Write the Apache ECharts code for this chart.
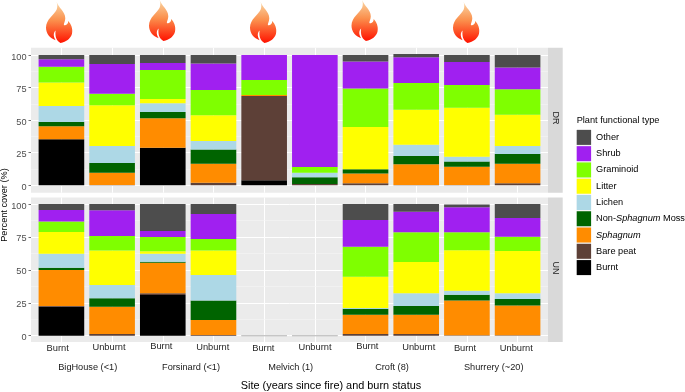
<!DOCTYPE html>
<html>
<head>
<meta charset="utf-8">
<style>html,body{margin:0;padding:0;background:#fff}#c{width:685px;height:392px}</style>
<script src="https://cdn.jsdelivr.net/npm/echarts@6/dist/echarts.min.js"></script>
</head>
<body>
<div id="c"></div>
<script>
// ---- data ----
const barLabels = ['Burnt','Unburnt','Burnt','Unburnt','Burnt','Unburnt','Burnt','Unburnt','Burnt','Unburnt'];
const sites = ['BigHouse (<1)','Forsinard (<1)','Melvich (1)','Croft (8)','Shurrery (~20)'];
const categories = ['BH B','BH U','FO B','FO U','ME B','ME U','CR B','CR U','SH B','SH U'];
const yTicks = [0,25,50,75,100];
const typeNames = ['Burnt','Bare peat','Sphagnum','Non-Sphagnum Moss','Lichen','Litter','Graminoid','Shrub','Other'];

const burntDR     = [35.3, 0,   28.9, 0,   3.8,  0,    0,   0,   0,   0];
const peatDR      = [0,    0.3, 0,    2,   64.7, 1,    1.5, 0.3, 0.3, 1.5];
const sphagnumDR  = [10,   9.4, 22.5, 14.6,0.8,  0,    7.5, 15.8,14,  15.1];
const mossDR      = [3.3,  7.4, 4.9,  10.8,0,    5.1,  3.3, 6.4, 3.9, 7.4];
const lichenDR    = [12.3, 13.1,6.6,  6.6, 0,    3.6,  0,   8.7, 3.8, 6.2];
const litterDR    = [17.9, 31.2,3.3,  19.7,0,    0,    32.5,26.8,37.6,24];
const graminoidDR = [12.2, 8.9, 22.3, 19.4,11.5, 4.4,  29.4,20.5,17.4,19.5];
const shrubDR     = [5.7,  22.8,5.4,  20.3,19.2, 85.9, 20.9,19.7,17.6,16.8];
const otherDR     = [3.3,  6.9, 6.1,  6.6, 0,    0,    4.9, 2.6, 5.4, 9.5];

const burntUN     = [22,   0,   30.9, 0,   0, 0, 0,   0,   0,   0];
const peatUN      = [0.5,  1.3, 1.3,  0.5, 0, 0, 1.3, 1.3, 0.3, 0.3];
const sphagnumUN  = [27.4, 20.7,23.2, 11.4,0, 0, 14.7,14.7,26.5,22.7];
const mossUN      = [1.7,  6.4, 0.8,  14.9,0, 0, 4.5, 6.5, 4.3, 4.8];
const lichenUN    = [10.7, 10.1,6.1,  19.3,0, 0, 0.5, 9.7, 3.1, 4.4];
const litterUN    = [16.4, 26.1,1.8,  18.5,0, 0, 23.8,23.8,30.6,32.1];
const graminoidUN = [8.1,  11.1,10.8, 8.8, 0, 0, 22.8,22.5,13.7,10.9];
const shrubUN     = [8.6,  19.5,4.6,  19,  0, 0, 20.2,15.7,19,  14.2];
const otherUN     = [4.6,  4.8, 20.5, 7.6, 0, 0, 12.2,5.8, 2.2, 10.6];

const seriesDR = [burntDR,peatDR,sphagnumDR,mossDR,lichenDR,litterDR,graminoidDR,shrubDR,otherDR];
const seriesUN = [burntUN,peatUN,sphagnumUN,mossUN,lichenUN,litterUN,graminoidUN,shrubUN,otherUN];
const typeColors = ['#000000','#5d4037','#ff8c00','#006400','#add8e6','#ffff00','#7fff00','#a020f0','#4d4d4d'];
const legendOrder = ['Other','Shrub','Graminoid','Litter','Lichen','Non-Sphagnum Moss','Sphagnum','Bare peat','Burnt'];

// ---- layout ----
const FONT = '"Liberation Sans", Arial, sans-serif';
const panels = [
  {top:47.7, bottom:192.7, y100:55,    y0:185.3, strip:'DR', stripY:118},
  {top:197.5,bottom:342,   y100:204,   y0:335.7, strip:'UN', stripY:268}
];
const panelL = 31, panelR = 548, stripR = 562.7;
const unit = (panelR-panelL)/10.2;
const barsL = panelL+0.1*unit, barsR = panelR-0.1*unit;
const tickX = [57.7,109,161.3,212.7,263.3,315,367.3,418.7,465,516.3];
const tickY = [348,347.3,346.7,347.3,348.3,347.3,346.7,347.3,348,348.3];
const siteX = [87.7,191,290.7,392,493.7];
const flames = [[46,2],[149,0],[250,2],[351.5,0],[453,2]];
const flamePath = 'M11 0 C13 6 20 10 20 17 C20 20 18.5 22 18.5 24 C21 25 23 23 23 20 C26 23 28 28 27 33 C26 38 21 42 15 43 C11 41 9 36 10 30 C7 33 8 37 10 40 C4 38 0 33 0 27 C0 18 8 14 11 8 C12 5 12 3 11 0 Z';
echarts.graphic.registerShape('flame', echarts.graphic.extendPath(flamePath, {}));

const grid=[], xAxis=[], yAxis=[], series=[], graphic=[];
panels.forEach((p,i)=>{
  graphic.push({type:'rect',z:-10,silent:true,shape:{x:panelL,y:p.top,width:panelR-panelL,height:p.bottom-p.top},style:{fill:'#ebebeb'}});
  graphic.push({type:'rect',z:-10,silent:true,shape:{x:panelR,y:p.top,width:stripR-panelR,height:p.bottom-p.top},style:{fill:'#d9d9d9'}});
  graphic.push({type:'text',z:5,silent:true,x:555.5,y:p.stripY,rotation:-Math.PI/2,style:{text:p.strip,font:'9px '+FONT,fill:'#1a1a1a',align:'center',verticalAlign:'middle'}});

  // horizontal gridlines and y ticks
  const gH = grid.length;
  grid.push({left:panelL,width:panelR-panelL,top:p.y100,height:p.y0-p.y100});
  xAxis.push({gridIndex:gH,type:'category',data:categories,show:false});
  yAxis.push({gridIndex:gH,type:'value',min:0,max:100,interval:25,z:1,
    axisLine:{show:false},
    axisTick:{show:true,length:2.5,lineStyle:{color:'#4d4d4d',width:0.8}},
    axisLabel:{show:false},
    splitLine:{show:true,lineStyle:{color:'#ffffff',width:1}},
    minorTick:{show:false,splitNumber:2},
    minorSplitLine:{show:true,lineStyle:{color:'#f5f5f5',width:0.6}}
  });
  series.push({type:'bar',xAxisIndex:gH,yAxisIndex:gH,data:[],silent:true,legendHoverLink:false});

  // y tick labels, sitting 2px under their ticks as in the reference
  const gL = grid.length;
  grid.push({left:panelL,width:panelR-panelL,top:p.y100+2,height:p.y0-p.y100});
  xAxis.push({gridIndex:gL,type:'category',data:categories,show:false});
  yAxis.push({gridIndex:gL,type:'value',min:0,max:100,interval:25,
    axisLine:{show:false},axisTick:{show:false},splitLine:{show:false},
    axisLabel:{color:'#4d4d4d',fontSize:9.2,fontFamily:FONT,margin:4.5,customValues:yTicks}
  });
  series.push({type:'bar',xAxisIndex:gL,yAxisIndex:gL,data:[],silent:true});

  // vertical gridlines through the bar centres
  const gV = grid.length;
  grid.push({left:barsL+unit/2,width:barsR-barsL-unit,top:p.top,height:p.bottom-p.top});
  xAxis.push({gridIndex:gV,type:'category',boundaryGap:false,data:categories,
    axisLine:{show:false},axisTick:{show:false},axisLabel:{show:false},
    splitLine:{show:true,interval:0,lineStyle:{color:'#ffffff',width:1}}});
  yAxis.push({gridIndex:gV,type:'value',min:0,max:100,show:false,splitLine:{show:false}});
  series.push({type:'bar',xAxisIndex:gV,yAxisIndex:gV,data:[],silent:true});

  // stacked bars
  const gB = grid.length;
  grid.push({left:barsL,width:barsR-barsL,top:p.y100,height:p.y0-p.y100});
  xAxis.push({gridIndex:gB,type:'category',data:categories,show:false});
  yAxis.push({gridIndex:gB,type:'value',min:0,max:100,show:false,splitLine:{show:false}});
  const src = i===0?seriesDR:seriesUN;
  typeNames.forEach((name,k)=>{
    series.push({
      name,type:'bar',stack:'s'+i,xAxisIndex:gB,yAxisIndex:gB,barWidth:'90%',clip:false,z:3,
      data:src[k].map((v,ci)=>{
        if(i===1&&k===8&&(ci===4||ci===5)) return {value:v,itemStyle:{borderColor:'#c4c4c4',borderWidth:1}};
        return v;
      }),
      itemStyle:{color:typeColors[k]},
      emphasis:{disabled:true}
    });
  });
});

barLabels.forEach((t,i)=>graphic.push({type:'text',silent:true,x:tickX[i],y:tickY[i],style:{text:t,font:'9.3px '+FONT,fill:'#262626',align:'center',verticalAlign:'middle'}}));
sites.forEach((t,i)=>graphic.push({type:'text',silent:true,x:siteX[i],y:367.7,style:{text:t,font:'9.2px '+FONT,fill:'#1a1a1a',align:'center',verticalAlign:'middle'}}));
graphic.push({type:'text',silent:true,x:331,y:385.5,style:{text:'Site (years since fire) and burn status',font:'10.9px '+FONT,fill:'#000',align:'center',verticalAlign:'middle'}});
graphic.push({type:'text',silent:true,x:4.5,y:205,rotation:Math.PI/2,style:{text:'Percent cover (%)',font:'9.2px '+FONT,fill:'#000',align:'center',verticalAlign:'middle'}});
graphic.push({type:'text',silent:true,x:576.7,y:120,style:{text:'Plant functional type',font:'9.2px '+FONT,fill:'#000',align:'left',verticalAlign:'middle'}});
// legend key backgrounds
legendOrder.forEach((n,i)=>graphic.push({type:'rect',z:-5,silent:true,shape:{x:576.7,y:129.3+i*16.27,width:14.4,height:16.27},style:{fill:'#f2f2f2'}}));
flames.forEach(f=>graphic.push({type:'flame',silent:true,z:6,x:f[0],y:f[1],scaleX:27/28,scaleY:41/43,
  style:{fill:new echarts.graphic.LinearGradient(0,0,0,1,[{offset:0,color:'#f9d6a4'},{offset:0.45,color:'#fb8f4c'},{offset:1,color:'#ff1200'}])}}));

const option = {
  animation:false,
  backgroundColor:'#fff',
  grid,xAxis,yAxis,series,graphic,
  legend:{
    orient:'vertical',left:576.7,top:129.9,padding:0,
    data:legendOrder,
    icon:'rect',itemWidth:14.4,itemHeight:15,itemGap:1.27,selectedMode:false,
    textStyle:{fontSize:9.2,fontFamily:FONT,color:'#000',
      rich:{n:{fontSize:9.2,fontFamily:FONT,color:'#000'},i:{fontSize:9.2,fontFamily:FONT,color:'#000',fontStyle:'italic'}}},
    itemStyle:{borderWidth:0},
    formatter:n=>{
      if(n==='Sphagnum') return '{i|Sphagnum}';
      if(n==='Non-Sphagnum Moss') return '{n|Non-}{i|Sphagnum}{n| Moss}';
      return '{n|'+n+'}';
    }
  }
};
const chart = echarts.init(document.getElementById('c'),null,{renderer:'canvas'});
chart.setOption(option);
</script>
</body>
</html>
